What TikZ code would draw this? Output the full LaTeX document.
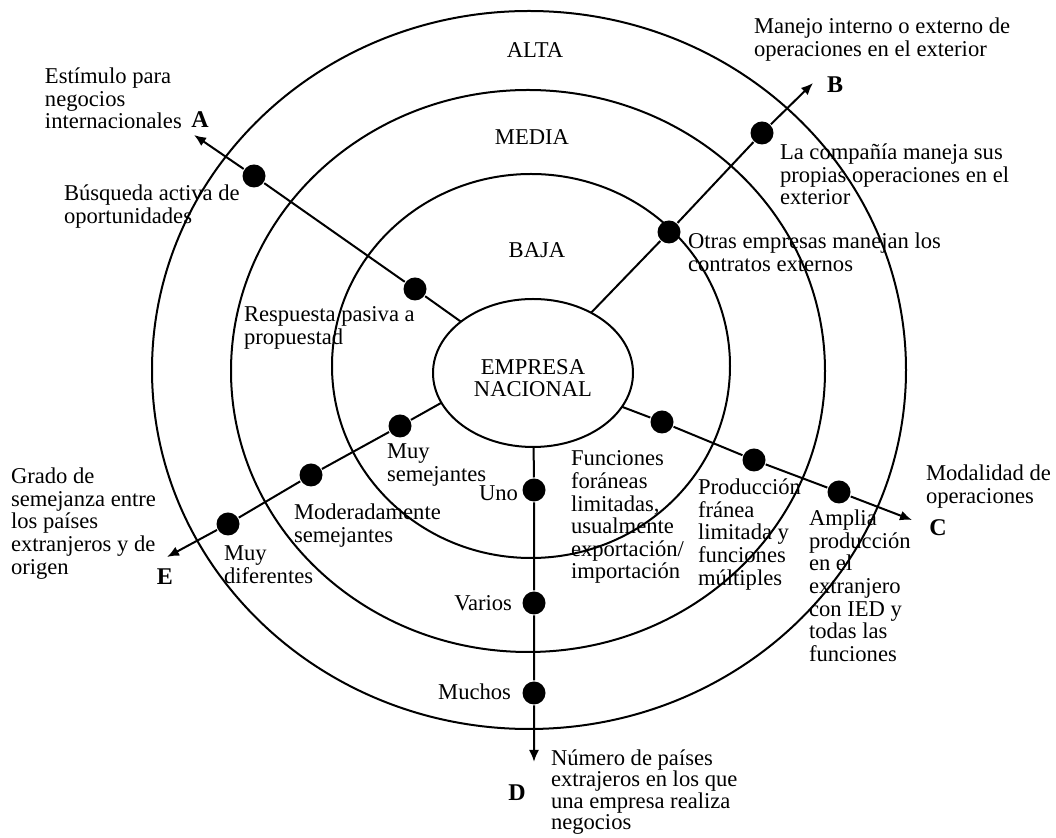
\documentclass[tikz,border=0pt]{standalone}
\usepackage{fontspec}
\setmainfont{Liberation Serif}
\usetikzlibrary{shapes.geometric,arrows.meta}

\begin{document}
\begin{tikzpicture}[x=0.5pt, y=-0.5pt, line width=1pt, >={Latex[length=6pt,width=5pt]},
    every node/.style={font=\fontsize{11.3}{11.3}\selectfont},
    anillo/.style={ellipse, draw, inner sep=0pt, outer sep=0pt},
    punto/.style={circle, fill, inner sep=0pt, minimum size=11.5pt},
    texto/.style={align=left, anchor=north west, inner sep=0pt},
    letra/.style={font=\fontsize{12}{12}\selectfont\bfseries, inner sep=0pt}]

    \useasboundingbox (0,0) rectangle (1056,838);

    \node[anillo, minimum width=377pt, minimum height=359pt] (alta) at (529,370) {};
    \node[anillo, minimum width=297pt, minimum height=281pt] (media) at (528,371) {};
    \node[anillo, minimum width=199pt, minimum height=192pt] (baja) at (531,366) {};
    \node[anillo, minimum width=100pt, minimum height=74pt] (emp) at (533,373) {};
    \node[align=center, inner sep=0pt] (lemp) at (533,378) {EMPRESA\\NACIONAL};

    \node (lalta) at (535,50) {ALTA};
    \node (lmedia) at (532,137) {MEDIA};
    \node (lbaja) at (537,250) {BAJA};

    \node[punto] (a1) at (415,289) {};
    \node[punto] (a2) at (254,176) {};
    \node[punto] (b1) at (669,232) {};
    \node[punto] (b2) at (762,133) {};
    \node[punto] (c1) at (662,422) {};
    \node[punto] (c2) at (754,460) {};
    \node[punto] (c3) at (839,492) {};
    \node[punto] (d1) at (534,490) {};
    \node[punto] (d2) at (534,603) {};
    \node[punto] (d3) at (534,693) {};
    \node[punto] (e1) at (400,426) {};
    \node[punto] (e2) at (311,475) {};
    \node[punto] (e3) at (228,524) {};

    \coordinate (ta) at (194,135);
    \coordinate (tb) at (813,83);
    \coordinate (tc) at (912,520);
    \coordinate (td) at (534,762);
    \coordinate (te) at (167,557);

    \draw [->] (emp) to (a1) to (a2) to (ta);
    \draw [->] (emp) to (b1) to (b2) to (tb);
    \draw [->] (emp) to (c1) to (c2) to (c3) to (tc);
    \draw [->] (emp) to (d1) to (d2) to (d3) to (td);
    \draw [->] (emp.198) to (e1) to (e2) to (e3) to (te);

    \node[letra] (la) at (200,120) {A};
    \node[letra] (lb) at (835,85) {B};
    \node[letra] (lc) at (938,528) {C};
    \node[letra] (ld) at (517,793) {D};
    \node[letra] (le) at (165,577) {E};

    \node[texto] (est) at (44,67) {Estímulo para\\negocios\\internacionales};
    \node[texto] (bus) at (63,184) {Búsqueda activa de\\oportunidades};
    \node[texto] (resp) at (243,306) {Respuesta pasiva a\\propuestad};
    \node[texto] (man) at (753,17) {Manejo interno o externo de\\operaciones en el exterior};
    \node[texto] (comp) at (779,143) {La compañía maneja sus\\propias operaciones en el\\exterior};
    \node[texto] (otras) at (687,232) {Otras empresas manejan los\\contratos externos};
    \node[texto] (msem) at (386,443) {Muy\\semejantes};
    \node[texto] (mod) at (293,503) {Moderadamente\\semejantes};
    \node[texto] (mdif) at (223,545) {Muy\\diferentes};
    \node[texto] (grado) at (10,467) {Grado de\\semejanza entre\\los países\\extranjeros y de\\origen};
    \node[texto] (func) at (570,450) {Funciones\\foráneas\\limitadas,\\usualmente\\exportación/\\importación};
    \node[texto] (prod) at (697,478) {Producción\\fránea\\limitada y\\funciones\\múltiples};
    \node[texto] (ampl) at (808,509) {Amplia\\producción\\en el\\extranjero\\con IED y\\todas las\\funciones};
    \node[texto] (modal) at (925,464) {Modalidad de\\operaciones};
    \node[texto, font=\fontsize{11.3}{10.6}\selectfont] (num) at (550,749) {Número de países\\extrajeros en los que\\una empresa realiza\\negocios};

    \node[anchor=east, inner sep=0pt] (uno) at (519,493) {Uno};
    \node[anchor=east, inner sep=0pt] (var) at (513,603) {Varios};
    \node[anchor=east, inner sep=0pt] (much) at (512,692) {Muchos};

\end{tikzpicture}
\end{document}
